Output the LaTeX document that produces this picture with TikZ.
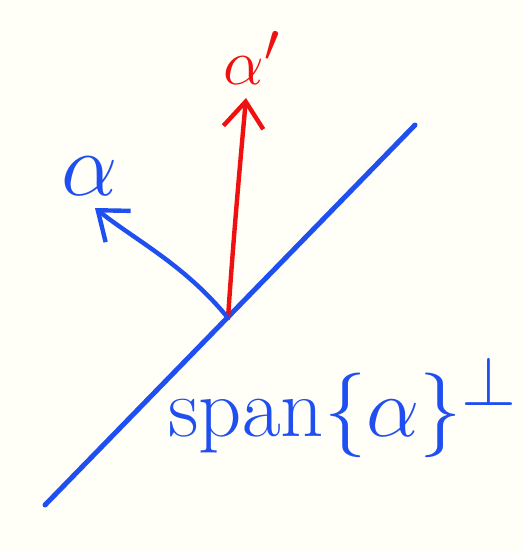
\documentclass[tikz,border=0pt]{standalone}
\usepackage{amsmath,amssymb}
\usepackage{graphicx}
\usepackage{xcolor}
\usetikzlibrary{arrows.meta,positioning,calc}
\definecolor{cPaper}{HTML}{FFFEF7}
\definecolor{cPen}{HTML}{1F4FF0}
\definecolor{cRed}{HTML}{F01010}
\newcommand{\biglab}[2]{\scalebox{#1}{#2}}
\tikzset{
  pen/.style   = {draw=cPen, line width=2.5pt, line cap=round},
  vec/.style   = {-{Straight Barb[length=13pt,width=20pt,line width=2.2pt]}, line width=2.2pt, line cap=round},
  lab/.style   = {inner sep=0pt, font=\Huge},
}
\begin{document}
\begin{tikzpicture}[x=0.5pt,y=-0.5pt]
  \fill[cPaper] (0,0) rectangle (524,552);
  \useasboundingbox (0,0) rectangle (524,552);

  \coordinate (o) at (228,318);
  \coordinate (lo) at (45,505);
  \coordinate (hi) at (415,125);
  \coordinate (tipr) at (246,98);
  \coordinate (tipb) at (95,208);

  \draw[pen] (lo) -- (hi);
  \draw[vec, cRed] (o) .. controls (234,230) and (240,165) .. (tipr);
  \draw[vec, cPen] (o) .. controls (185,265) and (135,240) .. (tipb);

  \node[lab, text=cRed] (alphap) at (252,58) {\biglab{1.3}{$\alpha'$}};
  \node[lab, text=cPen] (alpha) at (90,176) {\biglab{1.8}{$\alpha$}};
  \node[lab, text=cPen, anchor=base west] (span) at (168,436) {\biglab{1.7}{$\mathrm{span}\{\alpha\}^{\perp}$}};
\end{tikzpicture}
\end{document}
